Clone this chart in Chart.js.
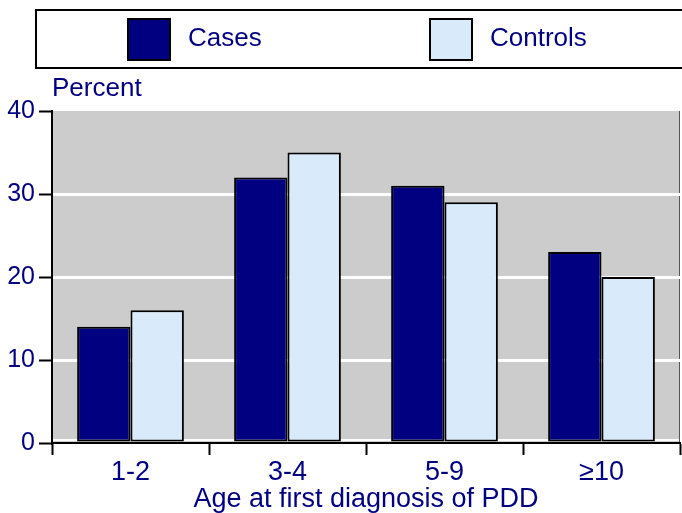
<!DOCTYPE html>
<html>
<head>
<meta charset="utf-8">
<script src="https://cdn.jsdelivr.net/npm/chart.js@4/dist/chart.umd.min.js"></script>
<style>
html,body{margin:0;padding:0;background:#fff;}
#wrap{width:682px;height:513px;position:relative;}
</style>
</head>
<body>
<div id="wrap"><canvas id="c" width="682" height="513"></canvas></div>
<script>
const categories = ['1-2', '3-4', '5-9', '\u226510'];
const seriesNames = ['Cases', 'Controls'];
const casesValues = [14, 32, 31, 23];
const controlsValues = [16, 35, 29, 20];
const yTicks = [0, 10, 20, 30, 40];
const yAxisLabel = 'Percent';
const xAxisLabel = 'Age at first diagnosis of PDD';

const NAVY = '#000080';
const LIGHT = '#d9eafb';
const FONT = '"Liberation Sans", Arial, Helvetica, sans-serif';

const bgPlugin = {
  id: 'bg',
  beforeDraw(chart) {
    const {ctx, chartArea: a} = chart;
    ctx.save();
    ctx.fillStyle = '#cccccc';
    ctx.fillRect(a.left, a.top, a.right - a.left, a.bottom - a.top);
    ctx.strokeStyle = '#555';
    ctx.lineWidth = 1;
    ctx.beginPath();
    ctx.moveTo(a.right - 0.5, a.top);
    ctx.lineTo(a.right - 0.5, a.bottom);
    ctx.stroke();
    // white line just above the zero baseline
    ctx.strokeStyle = '#fff';
    ctx.lineWidth = 2;
    ctx.beginPath();
    ctx.moveTo(a.left, a.bottom - 3);
    ctx.lineTo(a.right - 1, a.bottom - 3);
    ctx.stroke();
    ctx.restore();
  },
  afterDraw(chart) {
    const {ctx} = chart;
    ctx.save();
    // legend box
    ctx.strokeStyle = '#000';
    ctx.lineWidth = 2;
    ctx.strokeRect(36, 10, 700, 58);
    const ds = chart.data.datasets;
    ctx.font = '26px ' + FONT;
    ctx.textBaseline = 'alphabetic';
    ds.forEach((d, i) => {
      const x = 128 + i * 302;
      ctx.fillStyle = d.backgroundColor;
      ctx.fillRect(x, 19, 42, 41);
      ctx.strokeStyle = '#000';
      ctx.lineWidth = 2;
      ctx.strokeRect(x, 19, 42, 41);
      ctx.fillStyle = NAVY;
      ctx.fillText(d.label, x + 60, 46);
    });
    // y axis label
    ctx.fillStyle = NAVY;
    ctx.font = '26px ' + FONT;
    ctx.fillText(yAxisLabel, 52, 96);
    ctx.restore();
  }
};

new Chart(document.getElementById('c'), {
  type: 'bar',
  data: {
    labels: categories,
    datasets: [
      {label: seriesNames[0], data: casesValues, backgroundColor: NAVY, borderColor: '#000', borderWidth: 2, borderSkipped: false},
      {label: seriesNames[1], data: controlsValues, backgroundColor: LIGHT, borderColor: '#000', borderWidth: 2, borderSkipped: false}
    ]
  },
  options: {
    responsive: false,
    animation: false,
    devicePixelRatio: 1,
    layout: {padding: {top: 111, left: 0, right: 2, bottom: 0}},
    datasets: {bar: {categoryPercentage: 0.68, barPercentage: 1.0}},
    plugins: {legend: {display: false}, tooltip: {enabled: false}, title: {display: false}},
    scales: {
      x: {
        offset: true,
        grid: {display: true, offset: true, drawOnChartArea: false, tickLength: 12, tickColor: '#000', tickWidth: 2},
        border: {display: true, color: '#000', width: 2},
        ticks: {color: NAVY, font: {family: FONT, size: 27}, padding: 1, maxRotation: 0},
        title: {display: true, text: xAxisLabel, color: NAVY, font: {family: FONT, size: 27, lineHeight: 1}, padding: 0},
        afterFit(s) { s.height = 70; }
      },
      y: {
        min: 0, max: 40,
        afterBuildTicks(s) { s.ticks = yTicks.map(v => ({value: v})); },
        grid: {
          color: (c) => (c.tick && (c.tick.value === 40 || c.tick.value === 0)) ? 'rgba(0,0,0,0)' : '#ffffff',
          lineWidth: 3, tickLength: 13, tickColor: '#000', tickWidth: 2
        },
        border: {display: true, color: '#000', width: 2},
        ticks: {color: NAVY, font: {family: FONT, size: 25}, padding: 4},
        afterFit(s) { s.width = 52; }
      }
    }
  },
  plugins: [bgPlugin]
});
</script>
</body>
</html>
